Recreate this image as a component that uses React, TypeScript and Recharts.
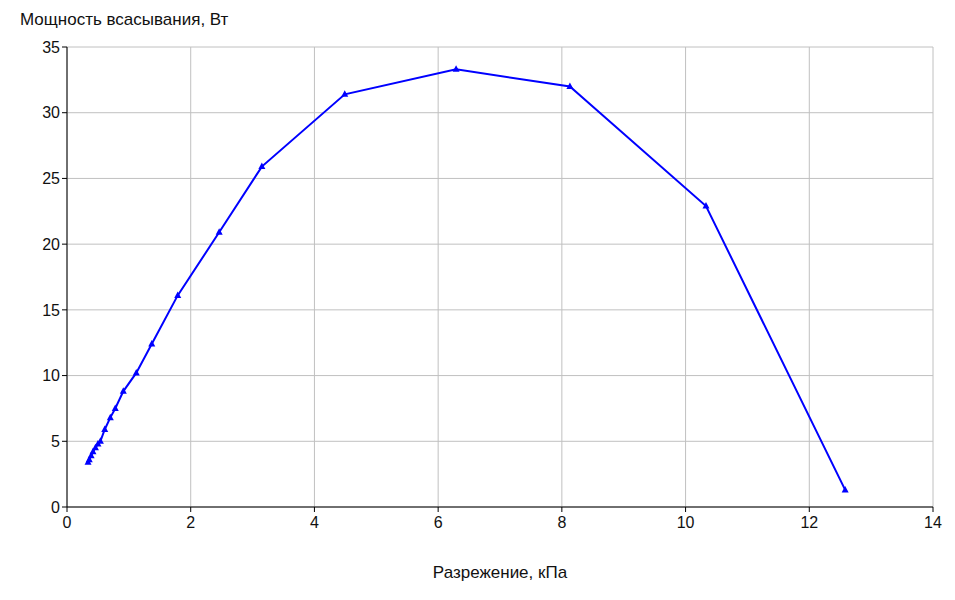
import { LineChart, Line, XAxis, YAxis, CartesianGrid } from 'recharts';

const vacuumKPa = [0.34, 0.36, 0.39, 0.42, 0.46, 0.5, 0.54, 0.61, 0.7, 0.78, 0.91, 1.12, 1.37, 1.79, 2.46, 3.15, 4.49, 6.29, 8.13, 10.33, 12.58];
const powerW = [3.4, 3.6, 3.9, 4.2, 4.5, 4.8, 5.0, 5.9, 6.8, 7.5, 8.8, 10.2, 12.4, 16.1, 20.9, 25.9, 31.4, 33.3, 32.0, 22.9, 1.3];
const xTicks = [0, 2, 4, 6, 8, 10, 12, 14];
const yTicks = [0, 5, 10, 15, 20, 25, 30, 35];

const data = vacuumKPa.map((x, i) => ({ x, y: powerW[i] }));

const font = 'Arial, "Liberation Sans", sans-serif';

function Triangle(props: any) {
  const { cx, cy } = props;
  if (cx == null || cy == null) return null;
  return <path d={`M${cx},${cy - 4} L${cx + 3.5},${cy + 2.5} L${cx - 3.5},${cy + 2.5} Z`} fill="#0000ff" />;
}

export default function App() {
  return (
    <div style={{ position: 'absolute', left: 0, top: 0, width: 955, height: 600, background: '#fff', fontFamily: font }}>
      <div style={{ position: 'absolute', left: 20, top: 10, fontSize: 17, color: '#111' }}>
        Мощность всасывания, Вт
      </div>
      <div style={{ position: 'absolute', left: 0, width: 1000, top: 563, textAlign: 'center', fontSize: 17, color: '#111' }}>
        Разрежение, кПа
      </div>
      <LineChart width={955} height={600} data={data} margin={{ top: 47, right: 22, bottom: 63, left: 0 }}>
        <CartesianGrid stroke="#c0c0c0" strokeWidth={1} />
        <XAxis
          dataKey="x"
          type="number"
          domain={[0, 14]}
          ticks={xTicks}
          height={30}
          tick={{ fontFamily: font, fontSize: 16, fill: '#111', dy: 3 }}
          axisLine={{ stroke: '#000' }}
          tickLine={{ stroke: '#000' }}
          tickSize={5}
        />
        <YAxis
          type="number"
          domain={[0, 35]}
          ticks={yTicks}
          width={67}
          tick={{ fontFamily: font, fontSize: 16, fill: '#111' }}
          axisLine={{ stroke: '#000' }}
          tickLine={{ stroke: '#000' }}
          tickSize={5}
        />
        <Line
          dataKey="y"
          type="linear"
          stroke="#0000ff"
          strokeWidth={2}
          dot={<Triangle />}
          activeDot={false}
          isAnimationActive={false}
        />
      </LineChart>
    </div>
  );
}
